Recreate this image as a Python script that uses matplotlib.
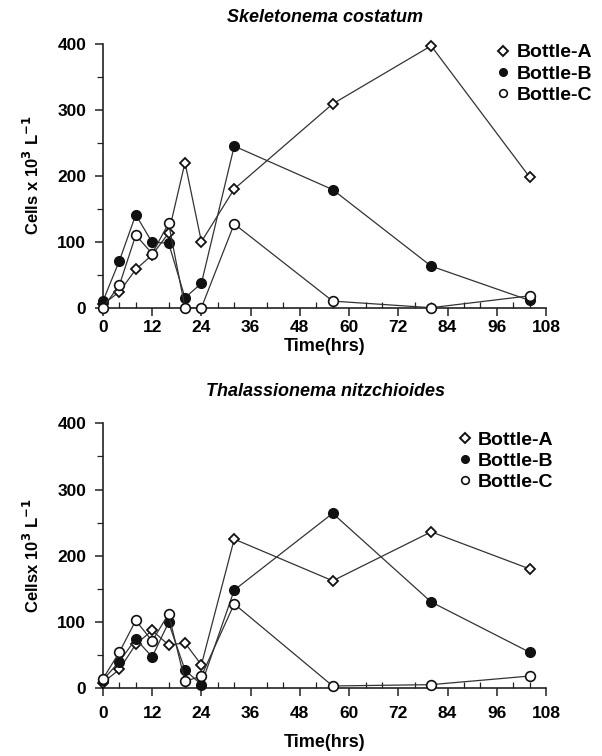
import numpy as np
import matplotlib
matplotlib.use("Agg")
import matplotlib.pyplot as plt
import matplotlib.lines as mlines
from matplotlib.ticker import MultipleLocator

plt.rcParams['font.family'] = ['Liberation Sans', 'DejaVu Sans']
plt.rcParams['font.weight'] = 'bold'

hrs = [0, 4, 8, 12, 16, 20, 24, 32, 56, 80, 104]

# Skeletonema costatum
sk_a = [5, 24, 58, 80, 113, 220, 100, 180, 309, 397, 198]
sk_b = [10, 71, 141, 99, 98, 15, 37, 245, 179, 63, 11]
sk_c = [0, 34, 110, 82, 128, 0, 0, 127, 10, 0, 18]

# Thalassionema nitzchioides
th_a = [8, 28, 66, 87, 65, 68, 35, 225, 162, 236, 180]
th_b = [12, 40, 74, 47, 99, 27, 5, 148, 264, 130, 54]
th_c = [14, 54, 102, 71, 112, 10, 18, 127, 3, 5, 18]

labels = ["Bottle-A", "Bottle-B", "Bottle-C"]
xticks = [0, 12, 24, 36, 48, 60, 72, 84, 96, 108]
yticks = [0, 100, 200, 300, 400]

fig = plt.figure(figsize=(6.02, 7.56), dpi=100)
ax1 = fig.add_axes([0.171, 0.593, 0.736, 0.349])
ax2 = fig.add_axes([0.171, 0.090, 0.736, 0.350])

def draw(ax, a, b, c, title, title_y, ylab, legpos, tpad, xlpad):
    lc = '#333333'
    ax.plot(hrs, a, color=lc, lw=0.9, marker='D', ms=5, mfc='white',
            mec='#111111', mew=1.3, clip_on=False, zorder=3)
    ax.plot(hrs, b, color=lc, lw=0.9, marker='o', ms=7, mfc='#111111',
            mec='#111111', clip_on=False, zorder=3)
    ax.plot(hrs, c, color=lc, lw=0.9, marker='o', ms=7, mfc='white',
            mec='#111111', mew=1.2, clip_on=False, zorder=3)
    ax.set_xlim(0, 108)
    ax.set_ylim(0, 400)
    ax.set_xticks(xticks)
    ax.set_yticks(yticks)
    ax.xaxis.set_minor_locator(MultipleLocator(4))
    ax.yaxis.set_minor_locator(MultipleLocator(50))
    ax.spines['top'].set_visible(False)
    ax.spines['right'].set_visible(False)
    for s in ['left', 'bottom']:
        ax.spines[s].set_linewidth(1.2)
        ax.spines[s].set_color('#222222')
    ax.tick_params(axis='both', which='major', labelsize=12.5, length=6, width=1.1,
                   direction='out', color='#222222')
    ax.tick_params(axis='both', which='minor', length=4, width=0.9, color='#222222')
    ax.tick_params(axis='x', which='minor', direction='in')
    ax.tick_params(axis='y', pad=6)
    ax.tick_params(axis='x', pad=tpad)
    for t in ax.get_xticklabels() + ax.get_yticklabels():
        t.set_fontweight('bold')
    ax.set_xlabel("Time(hrs)", fontsize=13, fontweight='bold', labelpad=xlpad)
    ax.set_ylabel(ylab, fontsize=12, fontweight='bold', labelpad=11)
    fig.text(0.54, title_y, title, fontsize=13, fontweight='bold', style='italic',
             ha='center', va='center')
    h1 = mlines.Line2D([], [], ls='none', marker='D', ms=5, mfc='white', mec='#111111', mew=1.4)
    h2 = mlines.Line2D([], [], ls='none', marker='o', ms=5.5, mfc='#111111', mec='#111111')
    h3 = mlines.Line2D([], [], ls='none', marker='o', ms=5.5, mfc='white', mec='#111111', mew=1.2)
    ax.legend([h1, h2, h3], labels, loc='upper left', bbox_to_anchor=legpos,
              bbox_transform=fig.transFigure, frameon=False, handlelength=0.6,
              handletextpad=0.4, labelspacing=0.18, borderpad=0, borderaxespad=0,
              prop={'weight': 'bold', 'size': 14})

draw(ax1, sk_a, sk_b, sk_c, "Skeletonema costatum", 1 - 18 / 756,
     r"Cells x 10$^\mathbf{3}$ L$^\mathbf{-1}$", (0.826, 0.942), 3, 2)
draw(ax2, th_a, th_b, th_c, "Thalassionema nitzchioides", 1 - 391 / 756,
     r"Cellsx 10$^\mathbf{3}$ L$^\mathbf{-1}$", (0.762, 0.430), 7, 9)

fig.savefig("out.png", dpi=100)
